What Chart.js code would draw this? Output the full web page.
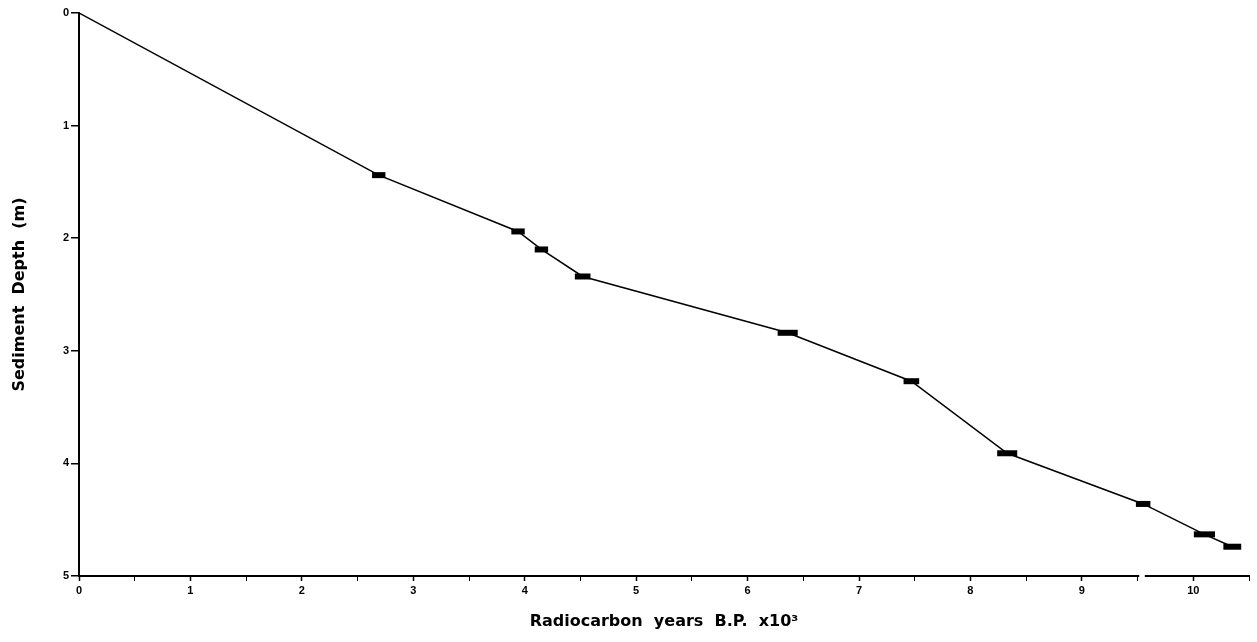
<!DOCTYPE html>
<html>
<head>
<meta charset="utf-8">
<script src="https://cdn.jsdelivr.net/npm/chart.js@4.4.0/dist/chart.umd.min.js"></script>
<style>
    html, body { margin: 0; padding: 0; background: #fff; }
    #chartContainer { width: 1257px; height: 642px; }
</style>
</head>
<body>
<div id="chartContainer">
    <canvas id="myChart"></canvas>
</div>

<script>
    // radiocarbon ages (x10^3 yr B.P.) against sample depth (m)
    var ages      = [0, 2.69, 3.94, 4.15, 4.52, 6.36, 7.47, 8.33, 9.55, 10.10, 10.35];
    var depths    = [0, 1.44, 1.94, 2.10, 2.34, 2.84, 3.27, 3.91, 4.36, 4.63, 4.74];
    // +/- counting error on each date (x10^3 yr), none for the core top
    var ageErrors = [0, 0.06, 0.06, 0.06, 0.07, 0.09, 0.07, 0.09, 0.065, 0.095, 0.08];

    var xMax = 10.5;
    var yMax = 5;
    var xAxisBreak = 9.54;   // the age axis is cut here

    var points = ages.map(function (a, i) { return { x: a, y: depths[i] }; });

    // draw each date as a filled bar spanning its age error
    var errorBars = {
        id: 'errorBars',
        afterDatasetsDraw: function (chart) {
            var ctx = chart.ctx;
            var xs = chart.scales.x, ys = chart.scales.y;
            ctx.save();
            ctx.fillStyle = '#000';
            ages.forEach(function (a, i) {
                if (!ageErrors[i]) return;
                var x1 = xs.getPixelForValue(a - ageErrors[i]);
                var x2 = xs.getPixelForValue(a + ageErrors[i]);
                var y = ys.getPixelForValue(depths[i]);
                ctx.fillRect(x1, y - 3, x2 - x1, 6);
            });
            ctx.restore();
        }
    };

    // small gap in the age axis
    var axisBreak = {
        id: 'axisBreak',
        afterDraw: function (chart) {
            var ctx = chart.ctx;
            var xs = chart.scales.x;
            var x1 = xs.getPixelForValue(xAxisBreak - 0.025);
            var x2 = xs.getPixelForValue(xAxisBreak + 0.025);
            ctx.save();
            ctx.fillStyle = '#fff';
            ctx.fillRect(x1, chart.chartArea.bottom - 3, x2 - x1, 5);
            ctx.restore();
        }
    };

    var titleFont = { family: 'DejaVu Sans, Liberation Sans, Arial', size: 16, weight: 'bold' };
    var tickFont = { family: 'Liberation Sans, Arial', size: 11, weight: 'bold' };

    var ctx = document.getElementById('myChart').getContext('2d');
    new Chart(ctx, {
        type: 'scatter',
        data: {
            datasets: [{
                data: points,
                showLine: true,
                borderColor: '#000',
                borderWidth: 1.5,
                pointRadius: 0,
                tension: 0
            }]
        },
        plugins: [errorBars, axisBreak],
        options: {
            animation: false,
            responsive: true,
            maintainAspectRatio: false,
            layout: { padding: { top: 13, right: 8, left: 0, bottom: 0 } },
            plugins: {
                legend: { display: false },
                tooltip: { enabled: false }
            },
            scales: {
                x: {
                    type: 'linear',
                    min: 0,
                    max: xMax,
                    afterFit: function (scale) { scale.height = 66; },
                    border: { color: '#000', width: 2 },
                    grid: {
                        drawOnChartArea: false,
                        drawTicks: true,
                        tickLength: 5,
                        color: '#000',
                        tickWidth: function (c) { return Number.isInteger(c.tick.value) ? 1.5 : 1; }
                    },
                    ticks: {
                        stepSize: 0.5,
                        autoSkip: false,
                        maxRotation: 0,
                        padding: 3,
                        color: '#000',
                        font: tickFont,
                        callback: function (v) { return Number.isInteger(v) ? v : ''; }
                    },
                    title: {
                        display: true,
                        text: 'Radiocarbon  years  B.P.  x10\u00b3',
                        color: '#000',
                        padding: { top: 11, bottom: 11 },
                        font: titleFont
                    }
                },
                y: {
                    type: 'linear',
                    reverse: true,
                    min: 0,
                    max: yMax,
                    afterFit: function (scale) { scale.width = 79; },
                    border: { color: '#000', width: 2 },
                    grid: { drawOnChartArea: false, drawTicks: true, tickLength: 8, color: '#000', lineWidth: 1.5 },
                    ticks: {
                        stepSize: 1,
                        padding: 2,
                        color: '#000',
                        font: tickFont
                    },
                    title: {
                        display: true,
                        text: 'Sediment  Depth  (m)',
                        color: '#000',
                        padding: { top: 10, bottom: 10 },
                        font: titleFont
                    }
                }
            }
        }
    });
</script>
</body>
</html>
